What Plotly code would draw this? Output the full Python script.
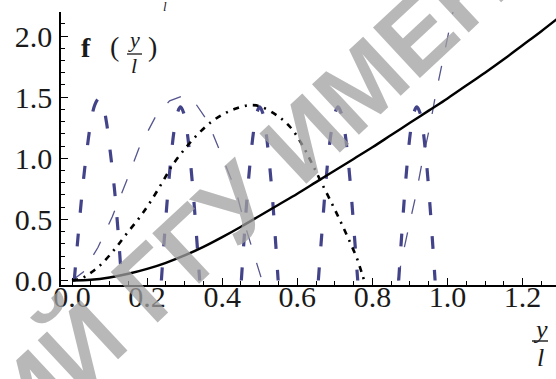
import plotly.graph_objects as go

# ---------------- data ----------------
# solid black curve
x_solid = [0, 0.05, 0.1, 0.15, 0.2, 0.25, 0.3, 0.35, 0.4, 0.45, 0.5, 0.55, 0.6, 0.65,
           0.7, 0.75, 0.8, 0.85, 0.9, 0.95, 1.0, 1.05, 1.1, 1.15, 1.2, 1.25, 1.3]
y_solid = [0, 0.006, 0.025, 0.055, 0.095, 0.145, 0.205, 0.275, 0.355, 0.44, 0.53, 0.62,
           0.71, 0.805, 0.9, 0.995, 1.09, 1.19, 1.29, 1.39, 1.49, 1.595, 1.70, 1.81,
           1.925, 2.04, 2.16]

# dot-dashed black curve
x_dotdash = [0, 0.03, 0.053, 0.077, 0.112, 0.146, 0.181, 0.208, 0.24, 0.269, 0.304,
             0.336, 0.368, 0.402, 0.439, 0.474, 0.501, 0.546, 0.581, 0.615, 0.642,
             0.666, 0.692, 0.714, 0.735, 0.759, 0.772, 0.778]
y_dotdash = [0, 0.025, 0.07, 0.13, 0.25, 0.385, 0.52, 0.64, 0.80, 0.95, 1.09, 1.20,
             1.29, 1.36, 1.41, 1.435, 1.425, 1.35, 1.256, 1.10, 0.94, 0.79, 0.63,
             0.49, 0.35, 0.18, 0.06, 0]

# thick blue dashed curve (only the positive lobes are visible)
x_thick = [0.006, 0.017, 0.028, 0.039, 0.050, 0.061, 0.072, 0.082, 0.092, 0.102, 0.113, 0.123, 0.132, None,
           0.238, 0.2465, 0.255, 0.2635, 0.272, 0.2805, 0.289, 0.2975, 0.306, 0.3145, 0.323, 0.3315, 0.340, None,
           0.451, 0.459, 0.467, 0.4755, 0.484, 0.492, 0.500, 0.508, 0.516, 0.5245, 0.533, 0.541, 0.549, None,
           0.656, 0.665, 0.6735, 0.682, 0.691, 0.700, 0.7085, 0.717, 0.726, 0.735, 0.7435, 0.752, 0.761, None,
           0.870, 0.878, 0.886, 0.894, 0.902, 0.910, 0.9185, 0.927, 0.935, 0.943, 0.951, 0.959, 0.967]
y_thick = [0, 0.39, 0.75, 1.05, 1.29, 1.44, 1.49, 1.44, 1.29, 1.05, 0.75, 0.39, 0, None,
           0, 0.37, 0.71, 1.00, 1.23, 1.37, 1.42, 1.37, 1.23, 1.00, 0.71, 0.37, 0, None,
           0, 0.37, 0.71, 1.00, 1.23, 1.37, 1.42, 1.37, 1.23, 1.00, 0.71, 0.37, 0, None,
           0, 0.37, 0.71, 1.00, 1.23, 1.37, 1.42, 1.37, 1.23, 1.00, 0.71, 0.37, 0, None,
           0, 0.37, 0.71, 1.00, 1.23, 1.37, 1.42, 1.37, 1.23, 1.00, 0.71, 0.37, 0]

# thin blue dashed curve
x_thin = [0, 0.03, 0.069, 0.107, 0.146, 0.178, 0.224, 0.26, 0.295, 0.322, 0.362, 0.40,
          0.437, 0.461, 0.487, 0.506, None,
          0.868, 0.88, 0.895, 0.916, 0.932, 0.953, 0.969, 0.988, 1.007, 1.025]
y_thin = [0, 0.07, 0.27, 0.52, 0.82, 1.08, 1.35, 1.47, 1.51, 1.48, 1.30, 1.01,
          0.73, 0.45, 0.18, 0, None,
          0, 0.2, 0.41, 0.70, 0.96, 1.26, 1.53, 1.80, 2.08, 2.35]

x_tickvals = [0.0, 0.2, 0.4, 0.6, 0.8, 1.0, 1.2]
x_ticktext = ["0.0", "0.2", "0.4", "0.6", "0.8", "1.0", "1.2"]
y_tickvals = [0.0, 0.5, 1.0, 1.5, 2.0]
y_ticktext = ["0.0", "0.5", "1.0", "1.5", "2.0"]

watermark_text = "ИЙ ГГУ ИМЕНИ"

# ---------------- layout helpers (pixel -> paper) ----------------
W, H = 556, 379
ML, MR, MT, MB = 61, 0, 12, 94
PW, PH = W - ML - MR, H - MT - MB


def px(x):
    return (x - ML) / PW


def py(y):
    return (H - MB - y) / PH


SERIF = "Liberation Serif, Times New Roman, serif"

fig = go.Figure()

fig.add_trace(go.Scatter(x=x_thin, y=y_thin, mode="lines",
                         line=dict(color="#55558f", width=1.3, dash="15px,19px"),
                         connectgaps=False, showlegend=False, hoverinfo="skip"))
fig.add_trace(go.Scatter(x=x_thick, y=y_thick, mode="lines",
                         line=dict(color="#43438a", width=3.2, dash="13px,21px", shape="spline"),
                         connectgaps=False, showlegend=False, hoverinfo="skip"))
fig.add_trace(go.Scatter(x=x_dotdash, y=y_dotdash, mode="lines",
                         line=dict(color="black", width=2.6, dash="6px,6px,2px,6px", shape="spline"),
                         showlegend=False, hoverinfo="skip"))
fig.add_trace(go.Scatter(x=x_solid, y=y_solid, mode="lines",
                         line=dict(color="black", width=2.4, shape="spline"),
                         showlegend=False, hoverinfo="skip"))

axis_common = dict(showgrid=False, zeroline=False, showline=True, linecolor="black",
                   linewidth=1.6, ticks="inside", tickcolor="black", tickwidth=1.3,
                   ticklen=7, tickfont=dict(family=SERIF, size=30, color="#1a1a1a"),
                   tickmode="array", automargin=False)

fig.update_xaxes(range=[-0.0293, 1.289], tickvals=x_tickvals, ticktext=x_ticktext,
                 minor=dict(ticks="inside", dtick=0.05, tick0=0, ticklen=4,
                            tickcolor="black", tickwidth=1),
                 ticklabelstandoff=-16, **axis_common)
fig.update_yaxes(range=[-0.0368, 2.197], tickvals=y_tickvals, ticktext=y_ticktext,
                 minor=dict(ticks="inside", dtick=0.1, tick0=0, ticklen=4,
                            tickcolor="black", tickwidth=1),
                 ticklabelstandoff=1, **axis_common)

annotations = []
shapes = []

# watermark
annotations.append(dict(text=watermark_text, xref="paper", yref="paper",
                        x=px(274), y=py(166), xanchor="center", yanchor="middle",
                        showarrow=False, textangle=-43,
                        font=dict(family="Liberation Sans, Arial, sans-serif", size=100,
                                  color="rgba(160,160,160,0.75)", weight="bold")))

# f (y/l) label
annotations.append(dict(text="f", xref="paper", yref="paper", x=px(86), y=py(47),
                        xanchor="center", yanchor="middle", showarrow=False,
                        font=dict(family=SERIF, size=28, color="#1a1a1a", weight="bold")))
annotations.append(dict(text="(", xref="paper", yref="paper", x=px(114), y=py(46),
                        xanchor="center", yanchor="middle", showarrow=False,
                        font=dict(family=SERIF, size=28, color="#1a1a1a")))
annotations.append(dict(text=")", xref="paper", yref="paper", x=px(152), y=py(46),
                        xanchor="center", yanchor="middle", showarrow=False,
                        font=dict(family=SERIF, size=28, color="#1a1a1a")))
annotations.append(dict(text="<i>y</i>", xref="paper", yref="paper", x=px(134), y=py(40),
                        xanchor="center", yanchor="middle", showarrow=False,
                        font=dict(family=SERIF, size=22, color="#1a1a1a")))
annotations.append(dict(text="<i>l</i>", xref="paper", yref="paper", x=px(134), y=py(65),
                        xanchor="center", yanchor="middle", showarrow=False,
                        font=dict(family=SERIF, size=22, color="#1a1a1a")))
shapes.append(dict(type="line", xref="paper", yref="paper", x0=px(127), x1=px(142),
                   y0=py(54), y1=py(54), line=dict(color="#1a1a1a", width=1.3)))

# axis title y/l at bottom right
annotations.append(dict(text="<i>y</i>", xref="paper", yref="paper", x=px(540), y=py(329),
                        xanchor="center", yanchor="middle", showarrow=False,
                        font=dict(family=SERIF, size=26, color="#1a1a1a")))
annotations.append(dict(text="<i>l</i>", xref="paper", yref="paper", x=px(540), y=py(357),
                        xanchor="center", yanchor="middle", showarrow=False,
                        font=dict(family=SERIF, size=26, color="#1a1a1a")))
shapes.append(dict(type="line", xref="paper", yref="paper", x0=px(532), x1=px(548),
                   y0=py(341), y1=py(341), line=dict(color="#1a1a1a", width=1.4)))

# small "l" at the very top (remnant of a caption above the chart)
annotations.append(dict(text="<i>l</i>", xref="paper", yref="paper", x=px(165), y=py(6),
                        xanchor="center", yanchor="middle", showarrow=False,
                        font=dict(family=SERIF, size=13, color="#1a1a1a")))

fig.update_layout(width=W, height=H, margin=dict(l=ML, r=MR, t=MT, b=MB, pad=0),
                  paper_bgcolor="white", plot_bgcolor="white",
                  annotations=annotations, shapes=shapes, showlegend=False)

fig.write_html("out.html", config={"displayModeBar": False},
               post_script="document.body.style.margin='0';document.body.style.overflow='hidden';")
